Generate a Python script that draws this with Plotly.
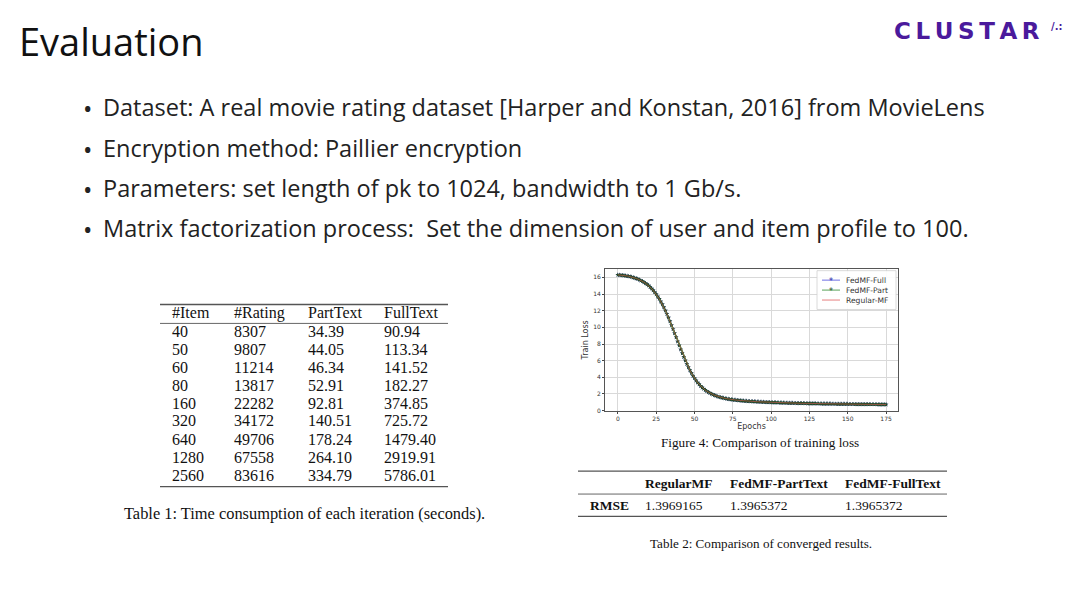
import plotly.graph_objects as go

# Page body has an 8px default margin; the figure is sized to fill the rest.
OFF = 8
W, H = 1080 - OFF, 608 - OFF

# ---------------- data ----------------
bullets = [
    "Dataset: A real movie rating dataset [Harper and Konstan, 2016] from MovieLens",
    "Encryption method: Paillier encryption",
    "Parameters: set length of pk to 1024, bandwidth to 1 Gb/s.",
    "Matrix factorization process:  Set the dimension of user and item profile to 100.",
]

t1_headers = ["#Item", "#Rating", "PartText", "FullText"]
items = ["40", "50", "60", "80", "160", "320", "640", "1280", "2560"]
ratings = ["8307", "9807", "11214", "13817", "22282", "34172", "49706", "67558", "83616"]
part_text = ["34.39", "44.05", "46.34", "52.91", "92.81", "140.51", "178.24", "264.10", "334.79"]
full_text = ["90.94", "113.34", "141.52", "182.27", "374.85", "725.72", "1479.40", "2919.91", "5786.01"]

t2_methods = ["RegularMF", "FedMF-PartText", "FedMF-FullText"]
t2_rmse = ["1.3969165", "1.3965372", "1.3965372"]

series_names = ["FedMF-Full", "FedMF-Part", "Regular-MF"]
epochs = list(range(176))
loss_full = [
    16.30, 16.29, 16.27, 16.25, 16.23, 16.20, 16.17, 16.13, 16.09, 16.04,
    15.99, 15.93, 15.87, 15.80, 15.72, 15.63, 15.53, 15.42, 15.30, 15.16,
    15.01, 14.84, 14.65, 14.44, 14.22, 13.98, 13.71, 13.42, 13.10, 12.76,
    12.40, 12.01, 11.60, 11.17, 10.72, 10.26, 9.78, 9.29, 8.80, 8.31,
    7.83, 7.35, 6.89, 6.44, 6.01, 5.60, 5.21, 4.85, 4.51, 4.19,
    3.90, 3.63, 3.38, 3.16, 2.96, 2.78, 2.62, 2.47, 2.34, 2.22,
    2.11, 2.01, 1.93, 1.85, 1.78, 1.71, 1.65, 1.60, 1.55, 1.51,
    1.47, 1.43, 1.40, 1.37, 1.34, 1.31, 1.29, 1.27, 1.25, 1.23,
    1.21, 1.19, 1.18, 1.16, 1.15, 1.13, 1.12, 1.11, 1.10, 1.09,
    1.08, 1.07, 1.06, 1.05, 1.04, 1.03, 1.02, 1.01, 1.01, 1.00,
    0.99, 0.98, 0.98, 0.97, 0.96, 0.96, 0.95, 0.94, 0.94, 0.93,
    0.93, 0.92, 0.92, 0.91, 0.91, 0.90, 0.90, 0.89, 0.89, 0.88,
    0.88, 0.88, 0.87, 0.87, 0.86, 0.86, 0.86, 0.85, 0.85, 0.85,
    0.84, 0.84, 0.84, 0.83, 0.83, 0.83, 0.82, 0.82, 0.82, 0.82,
    0.81, 0.81, 0.81, 0.80, 0.80, 0.80, 0.80, 0.79, 0.79, 0.79,
    0.79, 0.78, 0.78, 0.78, 0.78, 0.77, 0.77, 0.77, 0.77, 0.77,
    0.76, 0.76, 0.76, 0.76, 0.76, 0.75, 0.75, 0.75, 0.75, 0.75,
    0.74, 0.74, 0.74, 0.74, 0.74, 0.73,
]
loss_part = list(loss_full)
loss_regular = list(loss_full)

x_ticks = [0, 25, 50, 75, 100, 125, 150, 175]
y_ticks = [0, 2, 4, 6, 8, 10, 12, 14, 16]

# colours
BLUE_LINE, BLUE_MK = "#4b4bdc", "#2a2aa8"
GREEN_LINE, GREEN_MK = "#2e8b2e", "#1f4a1f"
RED_LINE = "#e06060"


# ---------------- helpers (screen pixel -> paper) ----------------
def px(x):
    return (x - OFF) / W


def py(y):
    return 1 - (y - OFF) / H


annotations = []
shapes = []


def text(x, y, s, size, color="#111", family="Open Sans", xanchor="left", bold=False,
         yanchor="middle"):
    if bold:
        s = "<b>" + s + "</b>"
    annotations.append(dict(
        x=px(x), y=py(y), xref="paper", yref="paper", text=s, showarrow=False,
        xanchor=xanchor, yanchor=yanchor, align="left",
        font=dict(size=size, color=color, family=family)))


def hline(x0, x1, y, width=1.0, color="#555"):
    shapes.append(dict(type="line", xref="paper", yref="paper",
                       x0=px(x0), x1=px(x1), y0=py(y), y1=py(y),
                       line=dict(color=color, width=width)))


# ---------------- slide texts ----------------
text(17, 41, "Evaluation", 38, color="#111")
text(892, 31, "C\u2009L\u2009U\u2009S\u2009T\u2009A\u2009R", 23, color="#4a1a9c",
     family="DejaVu Sans", bold=True)
text(1049, 27, "/.:", 10, color="#4a1a9c", family="DejaVu Sans", bold=True)

bullet_y = [108, 149, 189, 229]
for s, yy in zip(bullets, bullet_y):
    text(81, yy + 1, "•", 25, color="#222")
    text(101, yy, s, 23.5, color="#222")

# ---------------- table 1 ----------------
serif = "Liberation Serif"
col_x = [170, 232, 306, 382]
hline(160, 448, 306, width=1.3)
hline(160, 448, 325, width=0.9)
hline(160, 448, 489, width=1.3)
for cx, h in zip(col_x, t1_headers):
    text(cx, 314.5, h, 16, family=serif)
row_y = [333, 351, 369, 387, 405, 423, 442, 460, 478]
for i, ry in enumerate(row_y):
    for cx, col in zip(col_x, [items, ratings, part_text, full_text]):
        text(cx, ry, col[i], 16, family=serif)
text(304, 516, "Table 1: Time consumption of each iteration (seconds).", 16.4,
     family=serif, xanchor="center")

# ---------------- table 2 ----------------
hline(578, 947, 473.5, width=1.2)
hline(578, 947, 496.5, width=0.9)
hline(578, 947, 519, width=1.2)
t2_x = [643, 728, 843]
for cx, m in zip(t2_x, t2_methods):
    text(cx, 486, m, 13.5, family=serif, bold=True)
text(588, 508, "RMSE", 13.5, family=serif, bold=True)
for cx, v in zip(t2_x, t2_rmse):
    text(cx, 508, v, 13.5, family=serif)
text(761, 546, "Table 2: Comparison of converged results.", 13.1, family=serif,
     xanchor="center")

# figure caption
text(759.5, 445, "Figure 4: Comparison of training loss", 13.2, family=serif,
     xanchor="center")

# ---------------- legend (compact, matplotlib-like) ----------------
shapes.append(dict(type="rect", xref="paper", yref="paper",
                   x0=px(817), x1=px(896), y0=py(311), y1=py(272),
                   fillcolor="rgba(255,255,255,0.9)", line=dict(color="#d0d0d0", width=0.8)))
leg_y = [281.5, 291.5, 301.5]
leg_line = [BLUE_LINE, GREEN_LINE, RED_LINE]
leg_mk = [BLUE_MK, GREEN_MK, None]
for name, yy, lc, mc in zip(series_names, leg_y, leg_line, leg_mk):
    hline(822, 840, yy, width=0.8, color=lc)
    if mc:
        text(831, yy + 1.5, "*", 8, color=mc, family="DejaVu Sans", xanchor="center")
    text(844, yy, name, 7.6, color="#333", family="DejaVu Sans")

# ---------------- chart ----------------
fig = go.Figure()
fig.add_trace(go.Scatter(
    x=epochs, y=loss_full, name=series_names[0], mode="lines+markers",
    line=dict(color=BLUE_LINE, width=1),
    marker=dict(symbol="star", size=3.5, color=BLUE_MK)))
fig.add_trace(go.Scatter(
    x=epochs, y=loss_part, name=series_names[1], mode="lines+markers",
    line=dict(color=GREEN_LINE, width=1.6),
    marker=dict(symbol="star", size=3.5, color=GREEN_MK)))
fig.add_trace(go.Scatter(
    x=epochs, y=loss_regular, name=series_names[2], mode="lines",
    line=dict(color=RED_LINE, width=0.6)))

axis_font = dict(size=6, color="#333", family="DejaVu Sans")
title_font = dict(size=8, color="#333", family="DejaVu Sans")
fig.update_layout(
    width=W, height=H,
    margin=dict(l=0, r=0, t=0, b=0),
    paper_bgcolor="white", plot_bgcolor="white",
    annotations=annotations, shapes=shapes,
    showlegend=False,
    xaxis=dict(domain=[px(605), px(898)], range=[-8.4, 182.8],
               tickvals=x_ticks, ticks="outside", ticklen=2, tickcolor="#444",
               tickfont=axis_font, showgrid=True, gridcolor="#d9d9d9", gridwidth=0.7,
               showline=True, linecolor="#555", linewidth=0.8, mirror=True, zeroline=False,
               title=dict(text="Epochs", font=title_font, standoff=2)),
    yaxis=dict(domain=[py(413), py(270)], range=[-0.04, 17.04],
               tickvals=y_ticks, ticks="outside", ticklen=2, tickcolor="#444",
               tickfont=axis_font, showgrid=True, gridcolor="#d9d9d9", gridwidth=0.7,
               showline=True, linecolor="#555", linewidth=0.8, mirror=True, zeroline=False,
               title=dict(text="Train Loss", font=title_font, standoff=3)),
)

fig.write_html("out.html")
